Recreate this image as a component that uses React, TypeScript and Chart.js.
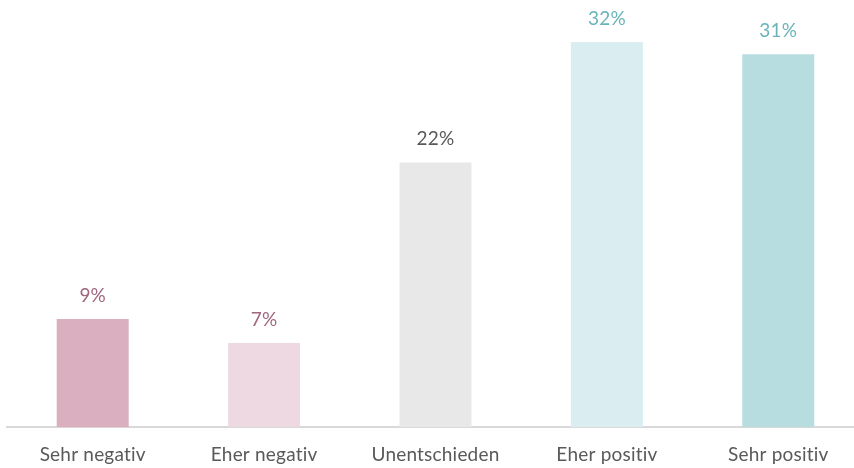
import React, { useEffect, useRef } from "react";
import { Chart, registerables } from "chart.js";

Chart.register(...registerables);

const categories = ["Sehr negativ", "Eher negativ", "Unentschieden", "Eher positiv", "Sehr positiv"];
const values = [9, 7, 22, 32, 31];
const barColors = ["#DAAFC0", "#EED9E2", "#E8E8E8", "#DAEDF0", "#B8DDE0"];
const labelColors = ["#A0667F", "#A0667F", "#595959", "#6AB4B9", "#6AB4B9"];

const FONT = "Lato, 'Open Sans', sans-serif";

const noLigatures = {
  id: "noLigatures",
  beforeDraw(chart: any) {
    const ctx = chart.ctx as any;
    if ("letterSpacing" in ctx) ctx.letterSpacing = "0.2px";
  },
};

const valueLabels = {
  id: "valueLabels",
  afterDatasetsDraw(chart: any) {
    const ctx = chart.ctx;
    const meta = chart.getDatasetMeta(0);
    ctx.save();
    ctx.font = `19px ${FONT}`;
    ctx.textAlign = "center";
    ctx.textBaseline = "alphabetic";
    meta.data.forEach((bar: any, i: number) => {
      ctx.fillStyle = labelColors[i];
      ctx.fillText(values[i] + "%", bar.x, bar.y - 17);
    });
    ctx.restore();
  },
};

export default function App() {
  const ref = useRef<HTMLCanvasElement>(null);
  useEffect(() => {
    if (!ref.current) return;
    const chart = new Chart(ref.current, {
      type: "bar",
      data: {
        labels: categories,
        datasets: [
          {
            data: values,
            backgroundColor: barColors,
            borderWidth: 0,
            barPercentage: 0.84,
            categoryPercentage: 0.5,
          },
        ],
      },
      options: {
        animation: false,
        responsive: false,
        maintainAspectRatio: false,
        layout: { padding: { left: 7, right: 2, top: 6, bottom: 0 } },
        plugins: { legend: { display: false }, tooltip: { enabled: false } },
        scales: {
          x: {
            grid: { display: false, drawTicks: false },
            border: { display: true, color: "#D9D9D9", width: 2 },
            ticks: {
              color: "#595959",
              font: { family: FONT, size: 19 },
              padding: 16,
              maxRotation: 0,
            },
          },
          y: {
            display: false,
            min: 0,
            max: 35,
          },
        },
      },
      plugins: [noLigatures, valueLabels],
    });
    return () => chart.destroy();
  }, []);
  return (
    <div style={{ position: "absolute", left: 0, top: 0, width: 854, height: 468, overflow: "hidden", background: "#fff" }}>
      <canvas ref={ref} width={866} height={482} style={{ display: "block" }} />
    </div>
  );
}
